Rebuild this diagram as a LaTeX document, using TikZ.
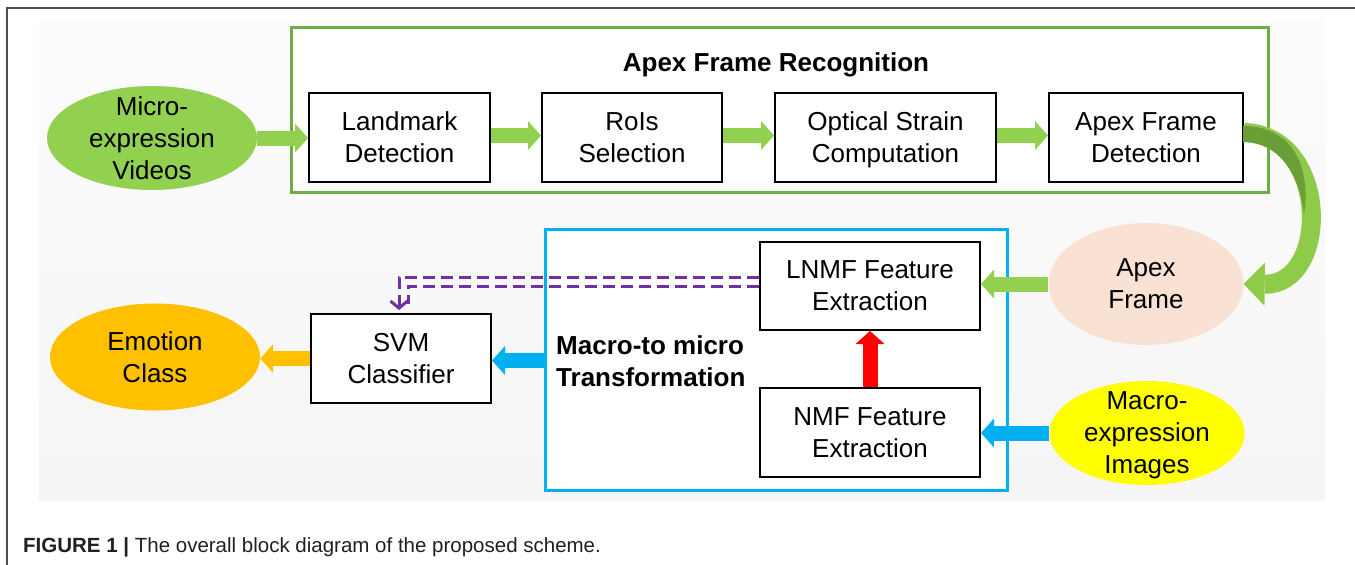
\documentclass[tikz,border=0pt]{standalone}
\usepackage{fontspec}
\setmainfont{Liberation Sans}
\usetikzlibrary{shapes.geometric,arrows.meta}
\definecolor{vgreen}{HTML}{92D050}
\definecolor{agreen}{HTML}{8DCB48}
\definecolor{dgreen}{HTML}{6A9E36}
\definecolor{frgreen}{HTML}{70AD47}
\definecolor{peach}{HTML}{F9E2D4}
\definecolor{yel}{HTML}{FFFF00}
\definecolor{orng}{HTML}{FFC000}
\definecolor{cyanb}{HTML}{00B0F0}
\definecolor{redr}{HTML}{FF0000}
\definecolor{purp}{HTML}{7030A0}
\definecolor{capcol}{HTML}{231F20}
\begin{document}
\begin{tikzpicture}[x=1pt,y=-1pt,
  txt/.style={font=\fontsize{26}{32}\selectfont, align=center, text=black},
  box/.style={draw=black, line width=2pt, fill=white, minimum height=89pt, inner sep=0pt, txt},
  oval/.style={ellipse, inner sep=0pt},
  blockarrow/.style={line width=15pt, -{Triangle[length=13pt,width=29pt,line width=0pt]}},
  dashline/.style={draw=purp, line width=3pt, dash pattern=on 12pt off 6pt}]
\useasboundingbox (0,0) rectangle (1355,565);
% background
\shade[top color=gray!2, bottom color=gray!8] (39,21) rectangle (1325,500);
\draw[gray!60!black, line width=1.2pt] (1355,8) -- (7,8) -- (7,565);
% frames
\node[draw=frgreen, fill=white, line width=3pt, minimum width=977pt, minimum height=165pt] (gframe) at (779.5,110) {};
\node[draw=cyanb, fill=white, line width=3pt, minimum width=462pt, minimum height=261pt] (mframe) at (776,359.5) {};
\node[txt, font=\fontsize{26}{32}\selectfont\bfseries] (title) at (776,64.5) {Apex Frame Recognition};
\node[txt, font=\fontsize{26}{32}\selectfont\bfseries, align=left, anchor=west, inner sep=0pt] (m2m) at (556,361) {Macro-to micro\\\smash{Transformation}};
% boxes
\node[box, minimum width=181pt] (land) at (399.5,137.5) {Landmark\\\smash{Detection}};
\node[box, minimum width=180pt] (rois) at (632,137.5) {RoIs\\\smash{Selection}};
\node[box, minimum width=221pt] (optical) at (885.5,137.5) {Optical Strain\\\smash{Computation}};
\node[box, minimum width=194pt] (apexdet) at (1146,137.5) {Apex Frame\\\smash{Detection}};
\node[box, minimum width=220pt, minimum height=88pt] (lnmf) at (870,286) {LNMF Feature\\\smash{Extraction}};
\node[box, minimum width=220pt] (nmf) at (870,432.5) {NMF Feature\\\smash{Extraction}};
\node[box, minimum width=180pt] (svm) at (401,358.5) {SVM\\\smash{Classifier}};
% ellipses
\node[oval, fill=vgreen, minimum width=210pt, minimum height=104pt, label={[txt]center:Micro-\\expression\\\smash{Videos}}] (videos) at (152,138) {};
\node[oval, fill=peach, minimum width=195pt, minimum height=122pt, label={[txt]center:Apex\\\smash{Frame}}] (apexf) at (1146,284) {};
\node[oval, fill=yel, minimum width=195pt, minimum height=104pt, label={[txt]center:Macro-\\expression\\\smash{Images}}] (images) at (1147,433) {};
\node[oval, fill=orng, minimum width=210pt, minimum height=107pt, label={[txt]center:Emotion\\\smash{Class}}] (emotion) at (155,357) {};
% arrows
\draw[blockarrow, vgreen] (videos.east) -- (videos.east -| land.west);
\draw[blockarrow, vgreen] ([yshift=2pt]land.east) -- ([yshift=2pt]rois.west);
\draw[blockarrow, vgreen] ([yshift=2pt]rois.east) -- ([yshift=2pt]optical.west);
\draw[blockarrow, vgreen] ([yshift=2pt]optical.east) -- ([yshift=2pt]apexdet.west);
\draw[agreen, line width=19pt, -{Triangle[length=21pt,width=43pt,line width=0pt]}] ([yshift=5pt]apexdet.east) .. controls (1330,135) and (1330,285) .. (apexf.east);
\fill[dgreen] (1243,126) .. controls (1295,126) and (1311,170) .. (1304,215) .. controls (1300,175) and (1280,142) .. (1243,142) -- cycle;
\draw[blockarrow, vgreen] (apexf.west) -- (apexf.west -| lnmf.east);
\draw[blockarrow, cyanb] (images.west) -- (images.west -| nmf.east);
\draw[blockarrow, redr] (nmf.north) -- (lnmf.south);
\draw[blockarrow, cyanb] ([yshift=-2pt]mframe.west |- svm.east) -- ([yshift=-2pt]svm.east);
\draw[blockarrow, orng] (svm.west) -- (svm.west -| emotion.east);
\draw[dashline, -{Straight Barb[length=7pt,width=17pt]}] ([yshift=9pt]lnmf.west) -| ([xshift=-2pt,yshift=3pt]svm.north);
\draw[dashline] (lnmf.west) -| ([xshift=7pt,yshift=9pt]svm.north);
% caption
\node[anchor=base west, inner sep=0pt, text=capcol, font=\fontsize{20.5}{24}\selectfont] (cap) at (23,552) {\textbf{FIGURE 1 |} The overall block diagram of the proposed scheme.};
\end{tikzpicture}
\end{document}
